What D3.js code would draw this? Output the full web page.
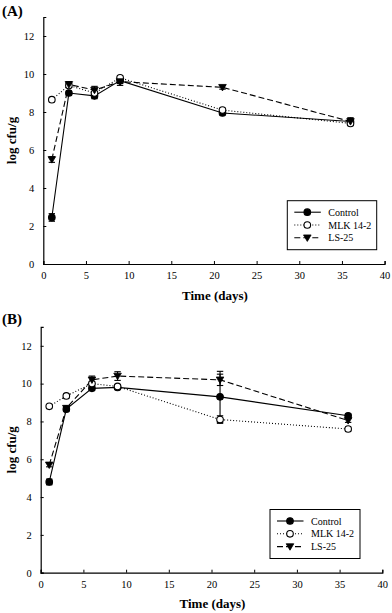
<!DOCTYPE html>
<html>
<head>
<meta charset="utf-8">
<script src="https://cdn.jsdelivr.net/npm/d3@7"></script>
<style>
  html, body { margin: 0; padding: 0; background: #fff; }
  svg { display: block; }
  text { font-family: "Liberation Serif", "Times New Roman", serif; fill: #000; }
</style>
</head>
<body>
<svg id="chart" width="392" height="613"></svg>
<script>
// ---- data ----
const days = [1, 3, 6, 9, 21, 36];
const seriesNames = ["Control", "MLK 14-2", "LS-25"];
const xTicks = [0, 5, 10, 15, 20, 25, 30, 35, 40];
const yTicks = [0, 2, 4, 6, 8, 10, 12];
const panelLabels = ["(A)", "(B)"];

// Panel A
const controlA = [2.45, 9.0, 8.85, 9.65, 7.95, 7.5];
const controlAErr = [0.2, 0.1, 0.15, 0.15, 0.1, 0.15];
const mlkA = [8.65, 9.4, 9.0, 9.8, 8.1, 7.4];
const mlkAErr = [0.05, 0.1, 0.2, 0.1, 0.1, 0.1];
const lsA = [5.5, 9.45, 9.15, 9.6, 9.3, 7.5];
const lsAErr = [0.15, 0.15, 0.2, 0.2, 0.1, 0.2];

// Panel B
const controlB = [4.8, 8.65, 9.75, 9.8, 9.3, 8.3];
const controlBErr = [0.15, 0.1, 0.1, 0.1, 1.35, 0.1];
const mlkB = [8.8, 9.35, 10.0, 9.85, 8.1, 7.6];
const mlkBErr = [0.05, 0.1, 0.1, 0.1, 0.2, 0.1];
const lsB = [5.7, 8.7, 10.2, 10.4, 10.2, 8.05];
const lsBErr = [0.1, 0.1, 0.2, 0.23, 0.3, 0.1];

// ---- styles ----
const styles = [
  { dash: null, marker: "circle", fill: "#000" },
  { dash: "1,2", marker: "circle", fill: "#fff" },
  { dash: "6,3", marker: "tri", fill: "#000" }
];

const svg = d3.select("#chart");

function drawPanel(cfg) {
  const g = svg.append("g");
  const x = d3.scaleLinear().domain([0, 40]).range([cfg.x0, cfg.x1]);
  const y = d3.scaleLinear().domain([0, 13]).range([cfg.y0, cfg.y1]);

  // axes
  const xa = g.append("g").attr("transform", `translate(0,${cfg.y0})`)
    .call(d3.axisBottom(x).tickValues(xTicks).tickSize(-3).tickPadding(8).tickFormat(d3.format("d")));
  const ya = g.append("g").attr("transform", `translate(${cfg.x0},0)`)
    .call(d3.axisLeft(y).tickValues(yTicks).tickSize(-3).tickPadding(9).tickFormat(d3.format("d")));
  [xa, ya].forEach(a => {
    a.select(".domain").attr("stroke", "#000").attr("stroke-width", 1.2);
    a.selectAll(".tick line").attr("stroke", "#000").attr("stroke-width", 1);
    a.selectAll(".tick text").style("font-family", "Liberation Serif, serif").style("font-size", "10.5px").attr("fill", "#000");
  });

  // axis titles
  g.append("text").attr("x", (cfg.x0 + x(40)) / 2 + 1).attr("y", cfg.titleY)
    .attr("text-anchor", "middle").style("font-size", "13px").style("font-weight", "bold").text("Time (days)");
  g.append("text").attr("transform", `translate(16,${(cfg.y0 + cfg.y1) / 2}) rotate(-90)`)
    .attr("text-anchor", "middle").style("font-size", "13px").style("font-weight", "bold").text("log cfu/g");
  g.append("text").attr("x", 2).attr("y", cfg.labelY).style("font-size", "15px").style("font-weight", "bold").text(cfg.label);

  const line = d3.line().x((d, i) => x(days[i])).y(d => y(d));

  cfg.series.forEach((s, si) => {
    const st = styles[si];
    // line
    g.append("path").datum(s.vals).attr("d", line).attr("fill", "none")
      .attr("stroke", "#000").attr("stroke-width", 1.1)
      .attr("stroke-dasharray", st.dash);
    // error bars
    s.vals.forEach((v, i) => {
      const e = s.err[i];
      const cx = x(days[i]);
      g.append("line").attr("x1", cx).attr("x2", cx).attr("y1", y(v - e)).attr("y2", y(v + e))
        .attr("stroke", "#000").attr("stroke-width", 1.1);
      [v - e, v + e].forEach(w => {
        g.append("line").attr("x1", cx - 3.2).attr("x2", cx + 3.2).attr("y1", y(w)).attr("y2", y(w))
          .attr("stroke", "#000").attr("stroke-width", 1.1);
      });
    });
  });
  cfg.series.forEach((s, si) => {
    const st = styles[si];
    s.vals.forEach((v, i) => drawMarker(g, st, x(days[i]), y(v)));
  });

  // legend
  const lg = g.append("g");
  lg.append("rect").attr("x", cfg.lx).attr("y", cfg.ly).attr("width", cfg.lw).attr("height", 49)
    .attr("fill", "#fff").attr("stroke", "#000").attr("stroke-width", 1);
  seriesNames.forEach((n, i) => {
    const yy = cfg.ly + 11.5 + i * 12.8;
    const st = styles[i];
    lg.append("line").attr("x1", cfg.lx + 7).attr("x2", cfg.lx + 33.5).attr("y1", yy).attr("y2", yy)
      .attr("stroke", "#000").attr("stroke-width", 1.1).attr("stroke-dasharray", st.dash);
    drawMarker(lg, st, cfg.lx + 20, yy);
    lg.append("text").attr("x", cfg.lx + 41).attr("y", yy + 3.5).style("font-size", "10px").text(n);
  });
}

function drawMarker(g, st, cx, cy) {
  if (st.marker === "circle") {
    g.append("circle").attr("cx", cx).attr("cy", cy).attr("r", 3.3)
      .attr("fill", st.fill).attr("stroke", "#000").attr("stroke-width", 1.1);
  } else {
    const s = 3.8;
    g.append("path").attr("d", `M${cx - s},${cy - s * 0.75}L${cx + s},${cy - s * 0.75}L${cx},${cy + s * 0.95}Z`)
      .attr("fill", st.fill).attr("stroke", "#000").attr("stroke-width", 0.8);
  }
}

drawPanel({
  x0: 43.3, x1: 384.6, y0: 264, y1: 17, titleY: 299.5, labelY: 16, label: panelLabels[0],
  lx: 287.3, ly: 200.7, lw: 89.4,
  series: [
    { vals: controlA, err: controlAErr },
    { vals: mlkA, err: mlkAErr },
    { vals: lsA, err: lsAErr }
  ]
});
drawPanel({
  x0: 40.7, x1: 382.3, y0: 572.7, y1: 326.9, titleY: 608, labelY: 323.5, label: panelLabels[1],
  lx: 270, ly: 509.5, lw: 90,
  series: [
    { vals: controlB, err: controlBErr },
    { vals: mlkB, err: mlkBErr },
    { vals: lsB, err: lsBErr }
  ]
});
</script>
</body>
</html>
